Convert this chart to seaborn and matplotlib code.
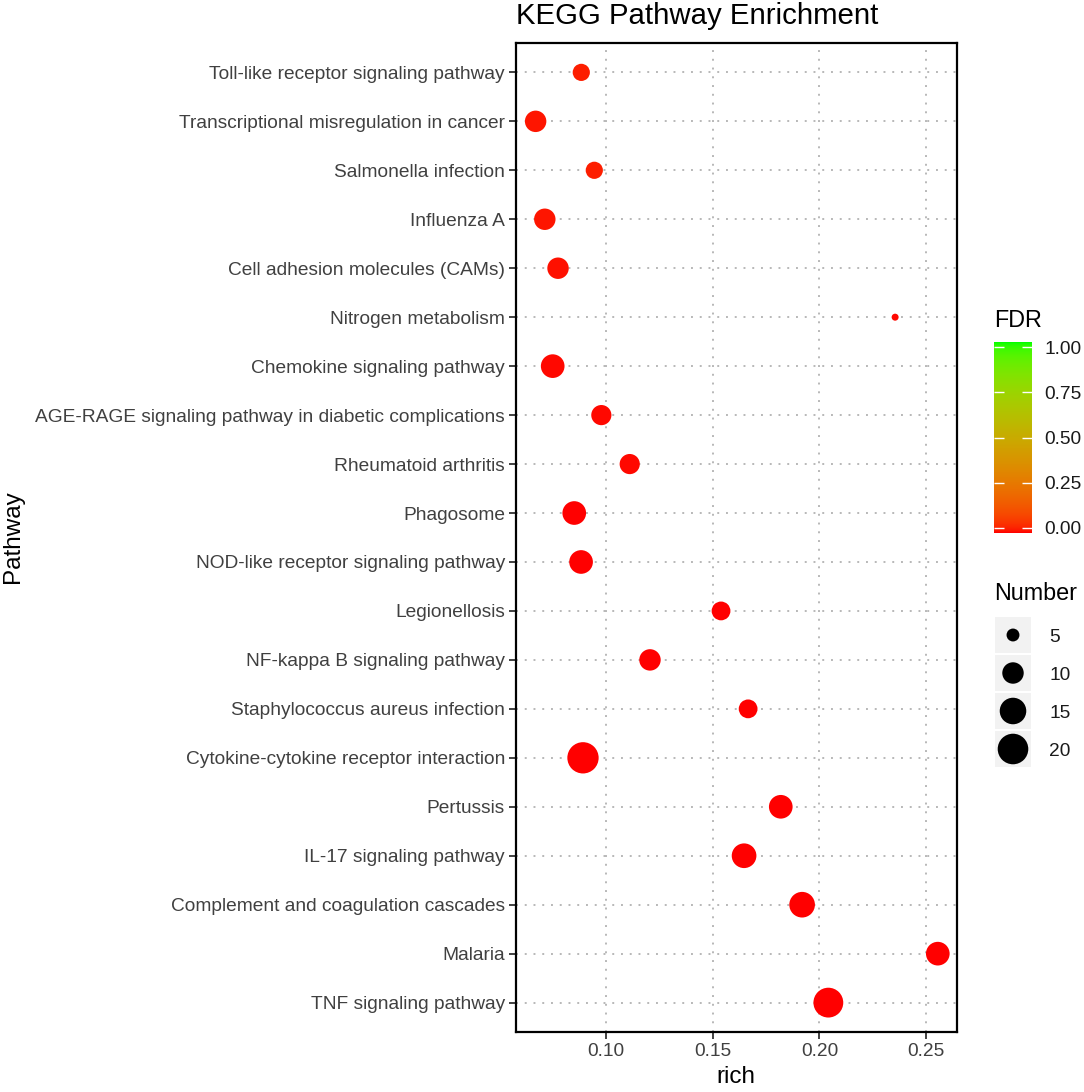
import numpy as np
import pandas as pd
import seaborn as sns
import matplotlib.pyplot as plt
from matplotlib.colors import ListedColormap
from matplotlib.patches import Rectangle


# values
pathways = [
    "Toll-like receptor signaling pathway",
    "Transcriptional misregulation in cancer",
    "Salmonella infection",
    "Influenza A",
    "Cell adhesion molecules (CAMs)",
    "Nitrogen metabolism",
    "Chemokine signaling pathway",
    "AGE-RAGE signaling pathway in diabetic complications",
    "Rheumatoid arthritis",
    "Phagosome",
    "NOD-like receptor signaling pathway",
    "Legionellosis",
    "NF-kappa B signaling pathway",
    "Staphylococcus aureus infection",
    "Cytokine-cytokine receptor interaction",
    "Pertussis",
    "IL-17 signaling pathway",
    "Complement and coagulation cascades",
    "Malaria",
    "TNF signaling pathway",
]
rich = [0.0884, 0.0670, 0.0945, 0.0713, 0.0775, 0.2355, 0.0750, 0.0978, 0.1111, 0.0851,
        0.0883, 0.1539, 0.1206, 0.1666, 0.0892, 0.1819, 0.1647, 0.1919, 0.2555, 0.2042]
number = [7, 10, 7, 10, 10, 4, 12, 9, 9, 12,
          12, 8, 10, 8, 21, 12, 13, 14, 12, 19]
fdr = [0.02, 0.015, 0.02, 0.015, 0.01, 0.005, 0.005, 0.005, 0.005, 0.0,
       0.0, 0.0, 0.0, 0.0, 0.0, 0.0, 0.0, 0.0, 0.0, 0.0]

legend_numbers = [5, 10, 15, 20]
fdr_ticks = [0.00, 0.25, 0.50, 0.75, 1.00]
rich_ticks = [0.10, 0.15, 0.20, 0.25]

df = pd.DataFrame({"Pathway": pathways, "rich": rich, "Number": number, "FDR": fdr})


# ggplot-like red -> green gradient, interpolated in CIELAB
M = np.array([[0.4124, 0.3576, 0.1805],
              [0.2126, 0.7152, 0.0722],
              [0.0193, 0.1192, 0.9505]])
WHITE = np.array([0.95047, 1.0, 1.08883])

def to_lab(rgb):
    rgb = np.asarray(rgb, float)
    lin = np.where(rgb <= 0.04045, rgb / 12.92, ((rgb + 0.055) / 1.055) ** 2.4)
    xyz = M @ lin / WHITE
    f = np.where(xyz > 0.008856, np.cbrt(xyz), 7.787 * xyz + 16 / 116)
    return np.array([116 * f[1] - 16, 500 * (f[0] - f[1]), 200 * (f[1] - f[2])])

def from_lab(lab):
    L, a, b = lab
    fy = (L + 16) / 116
    f = np.array([fy + a / 500, fy, fy - b / 200])
    xyz = np.where(f ** 3 > 0.008856, f ** 3, (f - 16 / 116) / 7.787) * WHITE
    lin = np.clip(np.linalg.inv(M) @ xyz, 0, 1)
    return np.where(lin <= 0.0031308, 12.92 * lin, 1.055 * lin ** (1 / 2.4) - 0.055)

lo, hi = to_lab([1, 0, 0]), to_lab([0, 1, 0])
cmap = ListedColormap([np.clip(from_lab(lo + t * (hi - lo)), 0, 1) for t in np.linspace(0, 1, 256)])

# point size like scale_size (diameter grows with sqrt of count)
nmin, nmax = min(number), max(number)

def point_area(n):
    d_px = 7 + 24.3 * np.sqrt((np.asarray(n, float) - nmin) / (nmax - nmin))
    return (d_px * 72 / 100) ** 2


plt.rcParams["font.family"] = ["Liberation Sans", "DejaVu Sans"]

W, H = 1084, 1092
fig = plt.figure(figsize=(W / 100, H / 100), dpi=100)
ax = fig.add_axes([516 / W, 1 - 1032 / H, 441 / W, 989 / H])

sizes = {n: float(point_area(n)) for n in df["Number"].unique()}
sns.scatterplot(data=df, x="rich", y="Pathway", hue="FDR", palette=cmap, hue_norm=(0, 1),
                size="Number", sizes=sizes, linewidth=0, legend=False, ax=ax, zorder=3)

ax.set_axisbelow(True)
ax.grid(True, color="#b8b8b8", linestyle=(0, (1, 3.5)), linewidth=1.4)
ax.set_xlim(0.0578, 0.2645)
ax.set_ylim(len(pathways) - 0.4, -0.6)
ax.set_xticks(rich_ticks)
ax.set_xticklabels([f"{t:.2f}" for t in rich_ticks])
ax.set_xlabel("")
ax.set_ylabel("")
for s in ax.spines.values():
    s.set_linewidth(1.6)
    s.set_color("black")
ax.tick_params(length=5, width=1.3, color="#333333", labelcolor="#404040", labelsize=13.8, pad=3)

fig.text(516 / W, 1 - 16 / H, "KEGG Pathway Enrichment", fontsize=21.2, ha="left", va="center")
fig.text(736 / W, 1 - 1077 / H, "rich", fontsize=17.5, ha="center", va="center")
fig.text(13 / W, 1 - 537 / H, "Pathway", fontsize=17.5, ha="center", va="center", rotation=90)

# FDR colour bar
cax = fig.add_axes([994 / W, 1 - 533 / H, 38 / W, 191 / H])
cax.imshow(np.linspace(0, 1, 256).reshape(-1, 1), cmap=cmap, origin="lower", aspect="auto",
           extent=(0, 1, -0.03, 1.03))
cax.set_xlim(0, 1)
cax.set_ylim(-0.03, 1.03)
cax.set_xticks([])
cax.set_yticks(fdr_ticks)
cax.set_yticklabels([f"{t:.2f}" for t in fdr_ticks])
cax.yaxis.tick_right()
cax.tick_params(axis="y", direction="in", left=True, right=True, length=7, width=1,
                color="white", labelsize=13.8, labelcolor="#1a1a1a", pad=9)
for s in cax.spines.values():
    s.set_visible(False)
fig.text(994 / W, 1 - 320 / H, "FDR", fontsize=16.8, ha="left", va="center")

# Number size legend
fig.text(994 / W, 1 - 594 / H, "Number", fontsize=16.8, ha="left", va="center")
lax = fig.add_axes([995 / W, 1 - 768 / H, 36 / W, 152 / H])
for i in range(len(legend_numbers)):
    lax.add_patch(Rectangle((0, i - 0.47), 1, 0.94, facecolor="#f2f2f2", edgecolor="none"))
lax.scatter([0.5] * len(legend_numbers), range(len(legend_numbers)),
            s=point_area(legend_numbers), color="black", linewidth=0)
lax.set_xlim(0, 1)
lax.set_ylim(len(legend_numbers) - 0.5, -0.5)
lax.set_xticks([])
lax.set_yticks(range(len(legend_numbers)))
lax.set_yticklabels([str(n) for n in legend_numbers])
lax.yaxis.tick_right()
lax.tick_params(axis="y", length=0, labelsize=13.8, labelcolor="#1a1a1a", pad=13)
for s in lax.spines.values():
    s.set_visible(False)

fig.savefig("out.png", dpi=100)
